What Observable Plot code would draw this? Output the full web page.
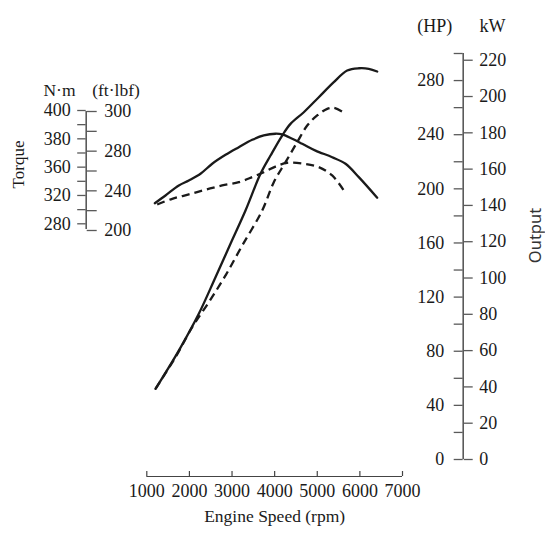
<!DOCTYPE html>
<html>
<head>
<meta charset="utf-8">
<script src="https://cdn.jsdelivr.net/npm/d3@7"></script>
<script src="https://cdn.jsdelivr.net/npm/@observablehq/plot@0.6"></script>
<style>
  html, body { margin: 0; padding: 0; background: #fff; }
  #chart { position: relative; width: 545px; height: 533px; background: #fff; overflow: hidden; }
  #chart svg { position: absolute; left: 0; top: 0; }
</style>
</head>
<body>
<div id="chart"></div>
<script>
// ---- data ----
const xTicks = [1000, 2000, 3000, 4000, 5000, 6000, 7000];

const powerSolidRpm = [1204, 1751, 2220, 2612, 2964, 3316, 3668, 3903, 4177, 4372, 4684, 5036, 5388, 5702, 5975, 6209, 6406];
const powerSolidHp  = [52.2, 80.5, 107.7, 134.7, 159.4, 184, 211.1, 224.6, 239.4, 248, 256.6, 267.7, 278.8, 287.4, 289.1, 288.7, 286.7];

const powerDashRpm = [1204, 1673, 2065, 2455, 2847, 3239, 3708, 3980, 4255, 4529, 4764, 4998, 5233, 5388, 5585];
const powerDashHp  = [52.2, 75.6, 97.8, 116.2, 136, 158.1, 184, 204.9, 219.7, 234.5, 246.8, 254.2, 259.1, 259.9, 257.1];

const torqueSolidRpm = [1188, 1439, 1751, 1986, 2260, 2535, 2847, 3159, 3473, 3745, 4020, 4177, 4412, 4647, 4959, 5350, 5663, 5975, 6406];
const torqueSolidNm  = [309.1, 320, 334.2, 341.2, 350.7, 362.4, 368.7, 374.1, 379.3, 382.4, 383.6, 383.1, 380, 376.5, 371.7, 367, 362.4, 345.9, 316.8];

const torqueDashRpm = [1244, 1596, 1986, 2377, 2769, 3159, 3473, 3745, 4020, 4294, 4684, 5036, 5350, 5623];
const torqueDashNm  = [307.3, 315.3, 321.5, 328.1, 334.2, 338.8, 345.9, 352.9, 360.4, 363.1, 362.4, 360, 348.3, 327.1];

const hpTicks = [0, 20, 40, 60, 80, 100, 120, 140, 160, 180, 200, 220, 240, 260, 280, 300];
const hpLabels = [0, 40, 80, 120, 160, 200, 240, 280];
const kwTicks = [0, 20, 40, 60, 80, 100, 120, 140, 160, 180, 200, 220];
const KW_PER_HP = 0.7457;

// torque axis labels as printed (evenly spaced in the figure)
const nmDomain = [280, 320, 360, 380, 400];
const nmTicks = [280, 300, 320, 340, 360, 370, 380, 390, 400];
const ftDomain = [200, 240, 280, 300];
const ftTicks = [200, 220, 240, 260, 280, 290, 300];

// ---- layout ----
const W = 545, H = 533;
const ML = 146.3, MR = 143;            // rpm 1000 .. 7000
const AXR = 462.7 - (W - MR);          // right axis offset from frame right
const AXL = 85.7 - ML;                 // left axis offset from frame left
const serif = "Liberation Serif, 'Times New Roman', serif";
const ink = "#1a1a1a";
const axisInk = "#5a5a5a";

const toRows = (xs, ys) => xs.map((x, i) => ({x, y: ys[i]}));
const evenRange = (bottom, top, n) => d3.quantize(d3.interpolateNumber(bottom, top), n);

function layer(opts) {
  return Plot.plot({
    width: W, height: H, marginLeft: ML, marginRight: MR,
    style: {background: "transparent", fontFamily: serif, color: ink, overflow: "visible"},
    x: {type: "linear", domain: [1000, 7000], axis: null},
    ...opts
  });
}

const lineStyle = {x: "x", y: "y", stroke: ink, strokeWidth: 2.3, curve: "catmull-rom", strokeLinecap: "round"};
const dashStyle = {...lineStyle, strokeDasharray: "8,5", strokeLinecap: "butt"};

// power (HP) layer
const power = layer({
  marginTop: 53, marginBottom: 74,
  y: {type: "linear", domain: [0, 300], axis: null},
  marks: [
    Plot.ruleX([7000], {y1: 0, y2: 300, dx: AXR, stroke: axisInk, strokeWidth: 1.6}),
    Plot.axisY(hpTicks, {anchor: "left", dx: (W - MR) - ML + AXR, tickSize: 9, tickFormat: () => "", stroke: axisInk, strokeWidth: 1.3, label: null}),
    Plot.axisY(hpLabels, {anchor: "left", dx: (W - MR) - ML + AXR, tickSize: 0, tickPadding: 19, fontSize: 18, fill: ink, label: null}),
    Plot.text(["(HP)"], {frameAnchor: "top-right", dx: 49.7, dy: -27, textAnchor: "end", lineAnchor: "middle", fontSize: 18, fill: ink}),
    Plot.line(toRows(powerSolidRpm, powerSolidHp), lineStyle),
    Plot.line(toRows(powerDashRpm, powerDashHp), dashStyle)
  ]
});

// kW layer (same pixel frame, kW scale)
const kw = layer({
  marginTop: 53, marginBottom: 74,
  y: {type: "linear", domain: [0, 300 * KW_PER_HP], axis: null},
  marks: [
    Plot.axisY(kwTicks, {anchor: "right", dx: AXR, tickSize: 9, tickFormat: () => "", stroke: axisInk, strokeWidth: 1.3, label: null}),
    Plot.axisY(kwTicks, {anchor: "right", dx: AXR, tickSize: 0, tickPadding: 16, fontSize: 18, fill: ink, label: null}),
    Plot.text(["kW"], {frameAnchor: "top-right", dx: 77, dy: -27, textAnchor: "start", lineAnchor: "middle", fontSize: 18, fill: ink}),
    Plot.text(["Output"], {frameAnchor: "right", dx: 535.5 - (W - MR), dy: 235 - (53 + (H - 74)) / 2, rotate: -90, textAnchor: "middle", lineAnchor: "middle", fontSize: 16.5, fill: "#333", fontFamily: "'Noto Sans', sans-serif"})
  ]
});

// torque N·m layer (piecewise-linear, labels evenly spaced as printed)
const torque = layer({
  marginTop: 110, marginBottom: H - 223.3,
  y: {type: "linear", domain: nmDomain, range: evenRange(223.3, 110, nmDomain.length), axis: null},
  marks: [
    Plot.axisY(nmTicks, {anchor: "left", dx: AXL, tickSize: 8.5, tickFormat: () => "", stroke: axisInk, strokeWidth: 1.3, label: null}),
    Plot.axisY(nmDomain, {anchor: "left", dx: AXL, tickSize: 0, tickPadding: 15.5, fontSize: 18, fill: ink, label: null}),
    Plot.text(["N·m"], {frameAnchor: "top-left", dx: 75 - ML, dy: -20.5, textAnchor: "end", lineAnchor: "middle", fontSize: 17.5, fill: ink}),
    Plot.text(["Torque"], {frameAnchor: "left", dx: 18 - ML, dy: 164 - (110 + 223.3) / 2, rotate: -90, textAnchor: "middle", lineAnchor: "middle", fontSize: 17, fill: ink}),
    Plot.line(toRows(torqueSolidRpm, torqueSolidNm), lineStyle),
    Plot.line(toRows(torqueDashRpm, torqueDashNm), dashStyle)
  ]
});

// torque ft·lbf layer
const ftlbf = layer({
  marginTop: 111, marginBottom: H - 230,
  y: {type: "linear", domain: ftDomain, range: evenRange(230, 111, ftDomain.length), axis: null},
  marks: [
    Plot.ruleX([1000], {y1: 200, y2: 300, dx: AXL, insetTop: -1, stroke: axisInk, strokeWidth: 1.6}),
    Plot.axisY(ftTicks, {anchor: "right", dx: 85.7 - (W - MR), tickSize: 10, tickFormat: () => "", stroke: axisInk, strokeWidth: 1.3, label: null}),
    Plot.axisY(ftDomain, {anchor: "right", dx: 85.7 - (W - MR), tickSize: 0, tickPadding: 18, fontSize: 18, fill: ink, label: null}),
    Plot.text(["(ft·lbf)"], {frameAnchor: "top-left", dx: 91.7 - ML, dy: -21.5, textAnchor: "start", lineAnchor: "middle", fontSize: 17.5, fill: ink})
  ]
});

// x axis layer
const xaxis = layer({
  marginTop: 471, marginBottom: H - 476,
  y: {type: "linear", domain: [0, 1], axis: null},
  marks: [
    Plot.ruleY([0], {stroke: "#444", strokeWidth: 1.2}),
    Plot.ruleX(xTicks, {stroke: "#444", strokeWidth: 1.2}),
    Plot.axisX(xTicks, {anchor: "bottom", tickSize: 0, tickPadding: 8, tickFormat: d => String(d), fontSize: 18, fill: ink, label: null}),
    Plot.text(["Engine Speed (rpm)"], {frameAnchor: "bottom", dy: 39.5, textAnchor: "middle", lineAnchor: "middle", fontSize: 17.5, fill: ink})
  ]
});

const root = document.getElementById("chart");
[xaxis, ftlbf, torque, kw, power].forEach(svg => root.appendChild(svg));
</script>
</body>
</html>
